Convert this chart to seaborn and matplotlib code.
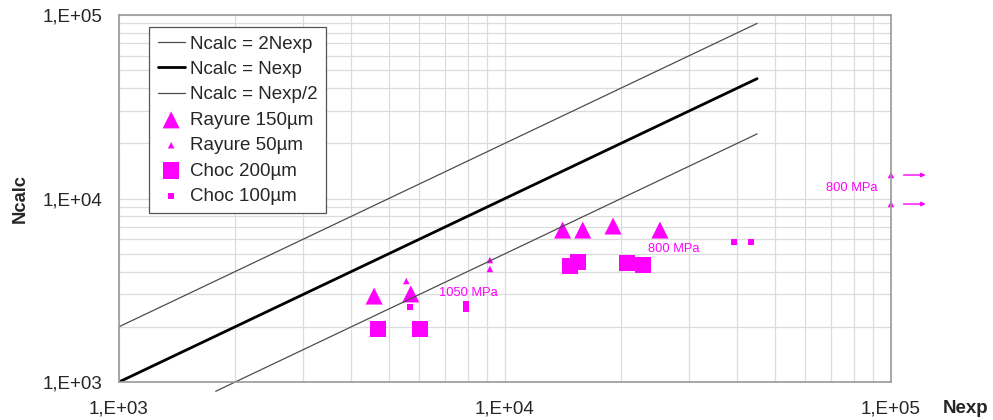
import numpy as np
import pandas as pd
import matplotlib
matplotlib.use("Agg")
import matplotlib.pyplot as plt
import seaborn as sns

# reference lines
line_x = [1000, 45000]
line_half_x = [1780, 45000]

# Rayure 150µm (big triangles)
rayure150_x = [4580, 5700, 14100, 15900, 19050, 25200]
rayure150_y = [2940, 3020, 6730, 6730, 7080, 6730]

# Rayure 50µm (small triangles)
rayure50_x = [5550, 9140, 9140, 100000, 100000]
rayure50_y = [3550, 4620, 4130, 13430, 9330]

# Choc 200µm (big squares)
choc200_x = [4690, 6030, 14720, 15450, 20700, 22800]
choc200_y = [1945, 1945, 4290, 4510, 4450, 4340]

# Choc 100µm (small squares)
choc100_x = [5680, 7930, 7930, 39200, 43300]
choc100_y = [2565, 2660, 2500, 5800, 5800]

# stress annotations
notes = ["1050 MPa", "800 MPa", "800 MPa"]
notes_x = [8020, 27400, 79200]
notes_y = [3055, 5310, 11400]

# run-outs (arrows to the right)
runout_y = [13430, 9330]

ticks = [1e3, 1e4, 1e5]
tick_labels = ["1,E+03", "1,E+04", "1,E+05"]

MAG = "#ff00ff"

sns.set_style("white")
plt.rcParams["font.family"] = ["Liberation Sans", "DejaVu Sans"]

fig = plt.figure(figsize=(9.93, 4.2), dpi=100)
ax = fig.add_axes([119 / 993, 38 / 420, 772 / 993, 367 / 420])
ax.set_xscale("log")
ax.set_yscale("log")

lx = np.array(line_x)
hx = np.array(line_half_x)
sns.lineplot(x=lx, y=2 * lx, ax=ax, color="#4d4d4d", lw=0.9, estimator=None,
             label="Ncalc = 2Nexp")
sns.lineplot(x=lx, y=lx, ax=ax, color="black", lw=2, estimator=None,
             label="Ncalc = Nexp")
sns.lineplot(x=hx, y=hx / 2, ax=ax, color="#4d4d4d", lw=0.9, estimator=None,
             label="Ncalc = Nexp/2")
ax.lines[-1].set_clip_on(False)

sns.scatterplot(x=rayure150_x, y=rayure150_y, ax=ax, marker="^", s=150,
                color=MAG, edgecolor="none", label="Rayure 150µm")
sns.scatterplot(x=rayure50_x, y=rayure50_y, ax=ax, marker="^", s=22,
                color=MAG, edgecolor="none", label="Rayure 50µm", clip_on=False)
sns.scatterplot(x=choc200_x, y=choc200_y, ax=ax, marker="s", s=140,
                color=MAG, edgecolor="none", label="Choc 200µm")
sns.scatterplot(x=choc100_x, y=choc100_y, ax=ax, marker="s", s=20,
                color=MAG, edgecolor="none", label="Choc 100µm")

for t, x, y in zip(notes, notes_x, notes_y):
    ax.text(x, y, t, color=MAG, fontsize=9.3, ha="center", va="center")

for y in runout_y:
    ax.annotate("", xy=(125000, y), xytext=(106000, y), annotation_clip=False,
                arrowprops=dict(arrowstyle="-|>", color=MAG, lw=1,
                                mutation_scale=6))

ax.set_xlim(1e3, 1e5)
ax.set_ylim(1e3, 1e5)
ax.set_xticks(ticks, tick_labels)
ax.set_yticks(ticks, tick_labels)
ax.tick_params(which="major", length=6, width=1, color="#888888",
               labelsize=13.5, direction="out")
ax.tick_params(axis="x", pad=7)
ax.tick_params(axis="y", pad=6)
ax.tick_params(which="minor", length=0)
ax.grid(which="both", color="#dcdcdc", lw=0.9)
for sp in ax.spines.values():
    sp.set_color("#999999")
    sp.set_linewidth(1.2)

ax.set_ylabel("Ncalc", fontsize=13.2, fontweight="bold")
ax.yaxis.set_label_coords(-0.117, 0.5)
ax.set_xlabel("Nexp", fontsize=13.5, fontweight="bold")
ax.xaxis.set_label_coords(1.096, -0.05)

leg = ax.legend(loc="upper left", bbox_to_anchor=(0.039, 0.967), fontsize=13.5,
                frameon=True, fancybox=False, edgecolor="#555555",
                framealpha=1, handlelength=1.45, handletextpad=0.3,
                labelspacing=0.44, borderpad=0.45, scatterpoints=1,
                borderaxespad=0)
leg.get_frame().set_linewidth(0.9)

fig.savefig("out.png", dpi=100)
